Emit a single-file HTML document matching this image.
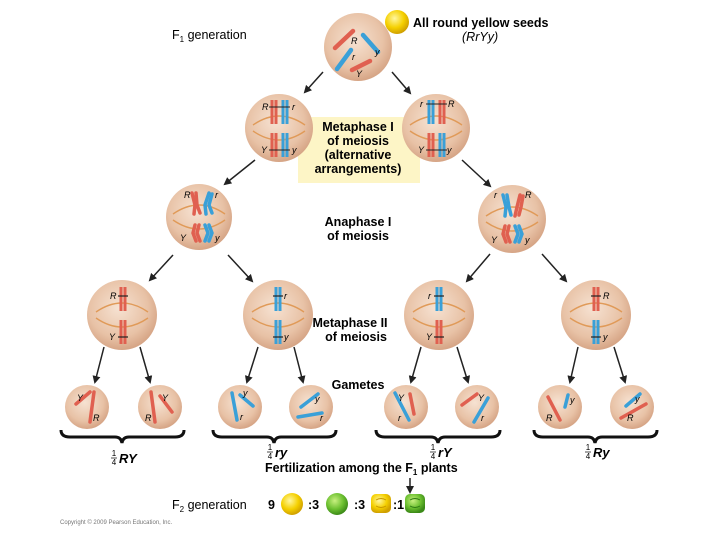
<!DOCTYPE html>
<html><head><meta charset="utf-8"><style>
html,body{margin:0;padding:0;background:#fff}
svg{display:block}
text{font-family:"Liberation Sans",sans-serif}
.b{font-weight:bold;font-size:12.5px}
.g{font-style:italic;font-size:9px}
</style></head><body>
<svg width="720" height="540" viewBox="0 0 720 540" xmlns="http://www.w3.org/2000/svg">
<defs>
<radialGradient id="cell" cx="45%" cy="40%" r="60%"><stop offset="0" stop-color="#f6e2d2"/><stop offset="0.7" stop-color="#e8c2a6"/><stop offset="1" stop-color="#d6a586"/></radialGradient>
<radialGradient id="yel" cx="40%" cy="35%" r="65%"><stop offset="0" stop-color="#fff7a0"/><stop offset="0.6" stop-color="#f5d000"/><stop offset="1" stop-color="#d0a000"/></radialGradient>
<radialGradient id="grn" cx="40%" cy="35%" r="65%"><stop offset="0" stop-color="#c8f080"/><stop offset="0.6" stop-color="#6cc030"/><stop offset="1" stop-color="#3c8a18"/></radialGradient>
<marker id="ah" markerWidth="8" markerHeight="8" refX="6" refY="4" orient="auto" markerUnits="userSpaceOnUse"><path d="M0,0 L8,4 L0,8 z" fill="#222"/></marker>
<g id="sp"><path d="M-26,-3 Q0,-21 26,-3" fill="none" stroke="#e09a58" stroke-width="1.4"/><path d="M-26,3 Q0,21 26,3" fill="none" stroke="#e09a58" stroke-width="1.4"/></g>
</defs>

<text x="172" y="39" font-size="12.5">F<tspan font-size="8" dy="3">1</tspan><tspan dy="-3"> generation</tspan></text>
<text x="413" y="27" class="b">All round yellow seeds</text>
<text x="462" y="41" font-size="12.5" font-style="italic">(RrYy)</text>
<circle cx="397" cy="22" r="12" fill="url(#yel)"/>

<circle cx="358" cy="47" r="34" fill="url(#cell)"/>
<line x1="335" y1="48" x2="353" y2="31" stroke="#e06050" stroke-width="4.5" stroke-linecap="round"/>
<line x1="363" y1="35" x2="378" y2="52" stroke="#3aa0d8" stroke-width="4.5" stroke-linecap="round"/>
<line x1="337" y1="69" x2="351" y2="50" stroke="#3aa0d8" stroke-width="4.5" stroke-linecap="round"/>
<line x1="352" y1="70" x2="370" y2="61" stroke="#e06050" stroke-width="4.5" stroke-linecap="round"/>
<text x="351" y="44" class="g">R</text><text x="375" y="55" class="g">y</text><text x="352" y="60" class="g">r</text><text x="356" y="77" class="g">Y</text>

<line x1="323" y1="72" x2="305" y2="92" stroke="#222" stroke-width="1.5" marker-end="url(#ah)"/>
<line x1="392" y1="72" x2="410" y2="93" stroke="#222" stroke-width="1.5" marker-end="url(#ah)"/>

<rect x="298" y="117" width="122" height="66" fill="#fdf5c6"/>
<text x="358" y="131" class="b" text-anchor="middle">Metaphase I</text>
<text x="358" y="145" class="b" text-anchor="middle">of meiosis</text>
<text x="358" y="159" class="b" text-anchor="middle">(alternative</text>
<text x="358" y="173" class="b" text-anchor="middle">arrangements)</text>

<circle cx="279" cy="128" r="34" fill="url(#cell)"/>
<use href="#sp" x="279" y="128"/>
<g stroke-width="3">
<line x1="272" y1="100" x2="272" y2="124" stroke="#e06050"/><line x1="276" y1="100" x2="276" y2="124" stroke="#e06050"/>
<line x1="283" y1="100" x2="283" y2="124" stroke="#3aa0d8"/><line x1="287" y1="100" x2="287" y2="124" stroke="#3aa0d8"/>
<line x1="272" y1="133" x2="272" y2="157" stroke="#e06050"/><line x1="276" y1="133" x2="276" y2="157" stroke="#e06050"/>
<line x1="283" y1="133" x2="283" y2="157" stroke="#3aa0d8"/><line x1="287" y1="133" x2="287" y2="157" stroke="#3aa0d8"/>
</g>
<line x1="269" y1="107" x2="290" y2="107" stroke="#222" stroke-width="1"/><line x1="269" y1="150" x2="290" y2="150" stroke="#222" stroke-width="1"/>
<text x="262" y="110" class="g">R</text><text x="292" y="110" class="g">r</text><text x="261" y="153" class="g">Y</text><text x="292" y="153" class="g">y</text>

<circle cx="436" cy="128" r="34" fill="url(#cell)"/>
<use href="#sp" x="436" y="128"/>
<g stroke-width="3">
<line x1="429" y1="100" x2="429" y2="124" stroke="#3aa0d8"/><line x1="433" y1="100" x2="433" y2="124" stroke="#3aa0d8"/>
<line x1="440" y1="100" x2="440" y2="124" stroke="#e06050"/><line x1="444" y1="100" x2="444" y2="124" stroke="#e06050"/>
<line x1="429" y1="133" x2="429" y2="157" stroke="#e06050"/><line x1="433" y1="133" x2="433" y2="157" stroke="#e06050"/>
<line x1="440" y1="133" x2="440" y2="157" stroke="#3aa0d8"/><line x1="444" y1="133" x2="444" y2="157" stroke="#3aa0d8"/>
</g>
<line x1="426" y1="104" x2="447" y2="104" stroke="#222" stroke-width="1"/><line x1="426" y1="150" x2="447" y2="150" stroke="#222" stroke-width="1"/>
<text x="420" y="107" class="g">r</text><text x="448" y="107" class="g">R</text><text x="418" y="153" class="g">Y</text><text x="447" y="153" class="g">y</text>

<line x1="255" y1="160" x2="225" y2="184" stroke="#222" stroke-width="1.5" marker-end="url(#ah)"/>
<line x1="462" y1="160" x2="490" y2="186" stroke="#222" stroke-width="1.5" marker-end="url(#ah)"/>

<text x="358" y="226" class="b" text-anchor="middle">Anaphase I</text>
<text x="358" y="240" class="b" text-anchor="middle">of meiosis</text>

<circle cx="199" cy="217" r="33" fill="url(#cell)"/>
<use href="#sp" x="199" y="217"/>
<g stroke-width="3.5" fill="none" stroke-linecap="round">
<path d="M192,193 L195,205 L194,214" stroke="#e06050"/><path d="M196,193 L197,205 L200,213" stroke="#e06050"/>
<path d="M209,193 L205,205 L206,214" stroke="#3aa0d8"/><path d="M212,194 L209,205 L212,213" stroke="#3aa0d8"/>
<path d="M195,225 L193,233 L196,241" stroke="#e06050"/><path d="M199,225 L197,233 L200,241" stroke="#e06050"/>
<path d="M205,225 L208,233 L205,241" stroke="#3aa0d8"/><path d="M209,225 L212,233 L209,241" stroke="#3aa0d8"/>
</g>
<text x="184" y="198" class="g">R</text><text x="215" y="198" class="g">r</text><text x="180" y="241" class="g">Y</text><text x="215" y="241" class="g">y</text>

<circle cx="512" cy="219" r="34" fill="url(#cell)"/>
<use href="#sp" x="512" y="219"/>
<g stroke-width="3.5" fill="none" stroke-linecap="round">
<path d="M503,195 L506,207 L505,216" stroke="#3aa0d8"/><path d="M507,195 L509,207 L511,215" stroke="#3aa0d8"/>
<path d="M520,195 L517,207 L515,216" stroke="#e06050"/><path d="M523,196 L521,207 L519,215" stroke="#e06050"/>
<path d="M505,226 L503,234 L506,242" stroke="#e06050"/><path d="M509,226 L507,234 L510,242" stroke="#e06050"/>
<path d="M515,226 L518,234 L515,242" stroke="#3aa0d8"/><path d="M519,226 L522,234 L519,242" stroke="#3aa0d8"/>
</g>
<text x="494" y="198" class="g">r</text><text x="525" y="198" class="g">R</text><text x="491" y="243" class="g">Y</text><text x="525" y="243" class="g">y</text>

<line x1="173" y1="255" x2="150" y2="280" stroke="#222" stroke-width="1.5" marker-end="url(#ah)"/>
<line x1="228" y1="255" x2="252" y2="281" stroke="#222" stroke-width="1.5" marker-end="url(#ah)"/>
<line x1="490" y1="254" x2="467" y2="281" stroke="#222" stroke-width="1.5" marker-end="url(#ah)"/>
<line x1="542" y1="254" x2="566" y2="281" stroke="#222" stroke-width="1.5" marker-end="url(#ah)"/>

<text x="350" y="327" class="b" text-anchor="middle">Metaphase II</text>
<text x="356" y="341" class="b" text-anchor="middle">of meiosis</text>

<g stroke-width="3">
<circle cx="122" cy="315" r="35" fill="url(#cell)"/><use href="#sp" x="122" y="315"/>
<line x1="121" y1="287" x2="121" y2="311" stroke="#e06050"/><line x1="125" y1="287" x2="125" y2="311" stroke="#e06050"/>
<line x1="121" y1="320" x2="121" y2="344" stroke="#e06050"/><line x1="125" y1="320" x2="125" y2="344" stroke="#e06050"/>

<circle cx="278" cy="315" r="35" fill="url(#cell)"/><use href="#sp" x="278" y="315"/>
<line x1="276" y1="287" x2="276" y2="311" stroke="#3aa0d8"/><line x1="280" y1="287" x2="280" y2="311" stroke="#3aa0d8"/>
<line x1="276" y1="320" x2="276" y2="344" stroke="#3aa0d8"/><line x1="280" y1="320" x2="280" y2="344" stroke="#3aa0d8"/>

<circle cx="439" cy="315" r="35" fill="url(#cell)"/><use href="#sp" x="439" y="315"/>
<line x1="437" y1="287" x2="437" y2="311" stroke="#3aa0d8"/><line x1="441" y1="287" x2="441" y2="311" stroke="#3aa0d8"/>
<line x1="437" y1="320" x2="437" y2="344" stroke="#e06050"/><line x1="441" y1="320" x2="441" y2="344" stroke="#e06050"/>

<circle cx="596" cy="315" r="35" fill="url(#cell)"/><use href="#sp" x="596" y="315"/>
<line x1="594" y1="287" x2="594" y2="311" stroke="#e06050"/><line x1="598" y1="287" x2="598" y2="311" stroke="#e06050"/>
<line x1="594" y1="320" x2="594" y2="344" stroke="#3aa0d8"/><line x1="598" y1="320" x2="598" y2="344" stroke="#3aa0d8"/>
</g>
<g stroke="#222" stroke-width="1.2">
<line x1="118" y1="296" x2="128" y2="296"/><line x1="118" y1="337" x2="128" y2="337"/>
<line x1="273" y1="296" x2="283" y2="296"/><line x1="273" y1="337" x2="283" y2="337"/>
<line x1="434" y1="296" x2="444" y2="296"/><line x1="434" y1="337" x2="444" y2="337"/>
<line x1="591" y1="296" x2="601" y2="296"/><line x1="591" y1="337" x2="601" y2="337"/>
</g>
<text x="110" y="299" class="g">R</text><text x="109" y="340" class="g">Y</text>
<text x="284" y="299" class="g">r</text><text x="284" y="340" class="g">y</text>
<text x="428" y="299" class="g">r</text><text x="426" y="340" class="g">Y</text>
<text x="603" y="299" class="g">R</text><text x="603" y="340" class="g">y</text>

<g stroke="#222" stroke-width="1.5" marker-end="url(#ah)">
<line x1="104" y1="347" x2="95" y2="382"/><line x1="140" y1="347" x2="150" y2="382"/>
<line x1="258" y1="347" x2="247" y2="382"/><line x1="294" y1="347" x2="303" y2="382"/>
<line x1="421" y1="347" x2="411" y2="382"/><line x1="457" y1="347" x2="468" y2="382"/>
<line x1="578" y1="347" x2="570" y2="382"/><line x1="614" y1="347" x2="625" y2="382"/>
</g>
<text x="358" y="389" class="b" text-anchor="middle">Gametes</text>

<g stroke-width="3.5" stroke-linecap="round">
<circle cx="87" cy="407" r="22" fill="url(#cell)"/>
<line x1="76" y1="404" x2="90" y2="392" stroke="#e06050"/><line x1="94" y1="392" x2="90" y2="422" stroke="#e06050"/>
<circle cx="160" cy="407" r="22" fill="url(#cell)"/>
<line x1="151" y1="392" x2="155" y2="422" stroke="#e06050"/><line x1="160" y1="396" x2="172" y2="412" stroke="#e06050"/>
<circle cx="240" cy="407" r="22" fill="url(#cell)"/>
<line x1="232" y1="393" x2="237" y2="420" stroke="#3aa0d8"/><line x1="240" y1="395" x2="253" y2="406" stroke="#3aa0d8"/>
<circle cx="311" cy="407" r="22" fill="url(#cell)"/>
<line x1="301" y1="407" x2="318" y2="394" stroke="#3aa0d8"/><line x1="298" y1="417" x2="322" y2="413" stroke="#3aa0d8"/>
<circle cx="406" cy="407" r="22" fill="url(#cell)"/>
<line x1="395" y1="393" x2="409" y2="420" stroke="#3aa0d8"/><line x1="410" y1="394" x2="414" y2="414" stroke="#e06050"/>
<circle cx="477" cy="407" r="22" fill="url(#cell)"/>
<line x1="462" y1="405" x2="477" y2="394" stroke="#e06050"/><line x1="488" y1="398" x2="474" y2="422" stroke="#3aa0d8"/>
<circle cx="560" cy="407" r="22" fill="url(#cell)"/>
<line x1="548" y1="397" x2="560" y2="420" stroke="#e06050"/><line x1="568" y1="395" x2="565" y2="407" stroke="#3aa0d8"/>
<circle cx="632" cy="407" r="22" fill="url(#cell)"/>
<line x1="626" y1="406" x2="640" y2="394" stroke="#3aa0d8"/><line x1="621" y1="418" x2="646" y2="404" stroke="#e06050"/>
</g>
<text x="77" y="401" class="g">Y</text><text x="93" y="421" class="g">R</text>
<text x="162" y="401" class="g">Y</text><text x="145" y="421" class="g">R</text>
<text x="243" y="396" class="g">y</text><text x="240" y="420" class="g">r</text>
<text x="315" y="402" class="g">y</text><text x="320" y="421" class="g">r</text>
<text x="398" y="401" class="g">Y</text><text x="398" y="421" class="g">r</text>
<text x="478" y="401" class="g">Y</text><text x="481" y="421" class="g">r</text>
<text x="570" y="403" class="g">y</text><text x="546" y="421" class="g">R</text>
<text x="635" y="402" class="g">y</text><text x="627" y="421" class="g">R</text>

<g fill="none" stroke="#111" stroke-width="3">
<path d="M61,430 q0,7 9,7 h45 q6,0 7,6 q1,-6 7,-6 h46 q9,0 9,-7"/>
<path d="M213,430 q0,7 9,7 h45 q6,0 7,6 q1,-6 7,-6 h46 q9,0 9,-7"/>
<path d="M376,430 q0,7 9,7 h46 q6,0 7,6 q1,-6 7,-6 h46 q9,0 9,-7"/>
<path d="M534,430 q0,7 9,7 h45 q6,0 7,6 q1,-6 7,-6 h46 q9,0 9,-7"/>
</g>

<g font-size="8">
<text x="114" y="456" text-anchor="middle">1</text><line x1="111" y1="458" x2="117" y2="458" stroke="#000" stroke-width="0.7"/><text x="114" y="465" text-anchor="middle">4</text>
<text x="270" y="450" text-anchor="middle">1</text><line x1="267" y1="452" x2="273" y2="452" stroke="#000" stroke-width="0.7"/><text x="270" y="459" text-anchor="middle">4</text>
<text x="433" y="450" text-anchor="middle">1</text><line x1="430" y1="452" x2="436" y2="452" stroke="#000" stroke-width="0.7"/><text x="433" y="459" text-anchor="middle">4</text>
<text x="588" y="450" text-anchor="middle">1</text><line x1="585" y1="452" x2="591" y2="452" stroke="#000" stroke-width="0.7"/><text x="588" y="459" text-anchor="middle">4</text>
</g>
<text x="119" y="463" font-size="13" font-style="italic" font-weight="bold">RY</text>
<text x="275" y="457" font-size="13" font-style="italic" font-weight="bold">ry</text>
<text x="438" y="457" font-size="13" font-style="italic" font-weight="bold">rY</text>
<text x="593" y="457" font-size="13" font-style="italic" font-weight="bold">Ry</text>

<text x="265" y="472" class="b">Fertilization among the F<tspan font-size="8" dy="3">1</tspan><tspan dy="-3"> plants</tspan></text>
<line x1="410" y1="478" x2="410" y2="492" stroke="#222" stroke-width="1.5" marker-end="url(#ah)"/>

<text x="172" y="509" font-size="12.5">F<tspan font-size="8" dy="3">2</tspan><tspan dy="-3"> generation</tspan></text>
<text x="268" y="509" class="b">9</text>
<circle cx="292" cy="504" r="11" fill="url(#yel)"/>
<text x="308" y="509" class="b">:3</text>
<circle cx="337" cy="504" r="11" fill="url(#grn)"/>
<text x="354" y="509" class="b">:3</text>
<rect x="371" y="494" width="20" height="19" rx="5" fill="url(#yel)"/>
<path d="M376,500 q5,-3 10,0 M376,506 q5,3 10,0" stroke="#c89800" fill="none" stroke-width="1"/>
<text x="393" y="509" class="b">:1</text>
<rect x="405" y="494" width="20" height="19" rx="5" fill="url(#grn)"/>
<path d="M410,500 q5,-3 10,0 M410,506 q5,3 10,0" stroke="#2f7a14" fill="none" stroke-width="1"/>

<text x="60" y="524" font-size="6" fill="#777">Copyright © 2009 Pearson Education, Inc.</text>
</svg>
</body></html>
